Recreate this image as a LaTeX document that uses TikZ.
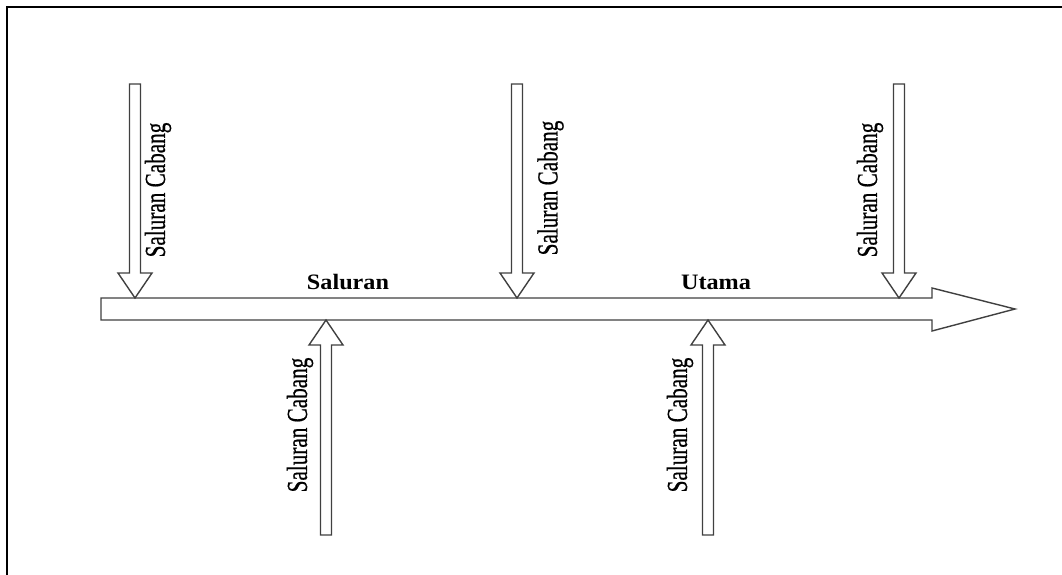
\documentclass[tikz,border=0pt]{standalone}
\usepackage{fontspec}
\usepackage{graphicx}
\setmainfont{Liberation Serif}
\newfontfamily\vertfont[FakeBold=0.8]{Liberation Serif}
\begin{document}
\begin{tikzpicture}[x=1pt,y=-1pt,
  shapeline/.style={draw=black!75,line width=1.4pt,fill=white,line join=miter},
  vlabel/.style={rotate=90,inner sep=0pt,font=\vertfont\fontsize{29}{30}\selectfont},
  hlabel/.style={inner sep=0pt,anchor=base,font=\fontsize{22}{24}\selectfont\bfseries}]
\useasboundingbox (0,0) rectangle (1062,575);
% frame
\draw[line width=2.2pt,black] (7,575) -- (7,7) -- (1062,7);
% main channel
\draw[shapeline] (101,298) -- (932,298) -- (932,288) -- (1015,309) -- (932,331) -- (932,320) -- (101,320) -- cycle;
% downward branch arrows
\foreach \c in {135,517,899}{
  \draw[shapeline] (\c-5.5,84) -- (\c+5.5,84) -- (\c+5.5,273) -- (\c+17,273) -- (\c,298) -- (\c-17,273) -- (\c-5.5,273) -- cycle;
}
% upward branch arrows
\foreach \c in {326,708}{
  \draw[shapeline] (\c-5.5,535) -- (\c+5.5,535) -- (\c+5.5,345) -- (\c+17,345) -- (\c,320) -- (\c-17,345) -- (\c-5.5,345) -- cycle;
}
% labels
\node[hlabel] (lsal) at (348,289) {\scalebox{1.1}[1]{Saluran}};
\node[hlabel] (luta) at (716,289) {\scalebox{1.1}[1]{Utama}};
\node[vlabel] (c1) at (158,190) {\scalebox{0.73}[1]{Saluran Cabang}};
\node[vlabel] (c2) at (550.5,188) {\scalebox{0.73}[1]{Saluran Cabang}};
\node[vlabel] (c3) at (870,190) {\scalebox{0.73}[1]{Saluran Cabang}};
\node[vlabel] (c4) at (300,425) {\scalebox{0.73}[1]{Saluran Cabang}};
\node[vlabel] (c5) at (680,425) {\scalebox{0.73}[1]{Saluran Cabang}};
\end{tikzpicture}
\end{document}
